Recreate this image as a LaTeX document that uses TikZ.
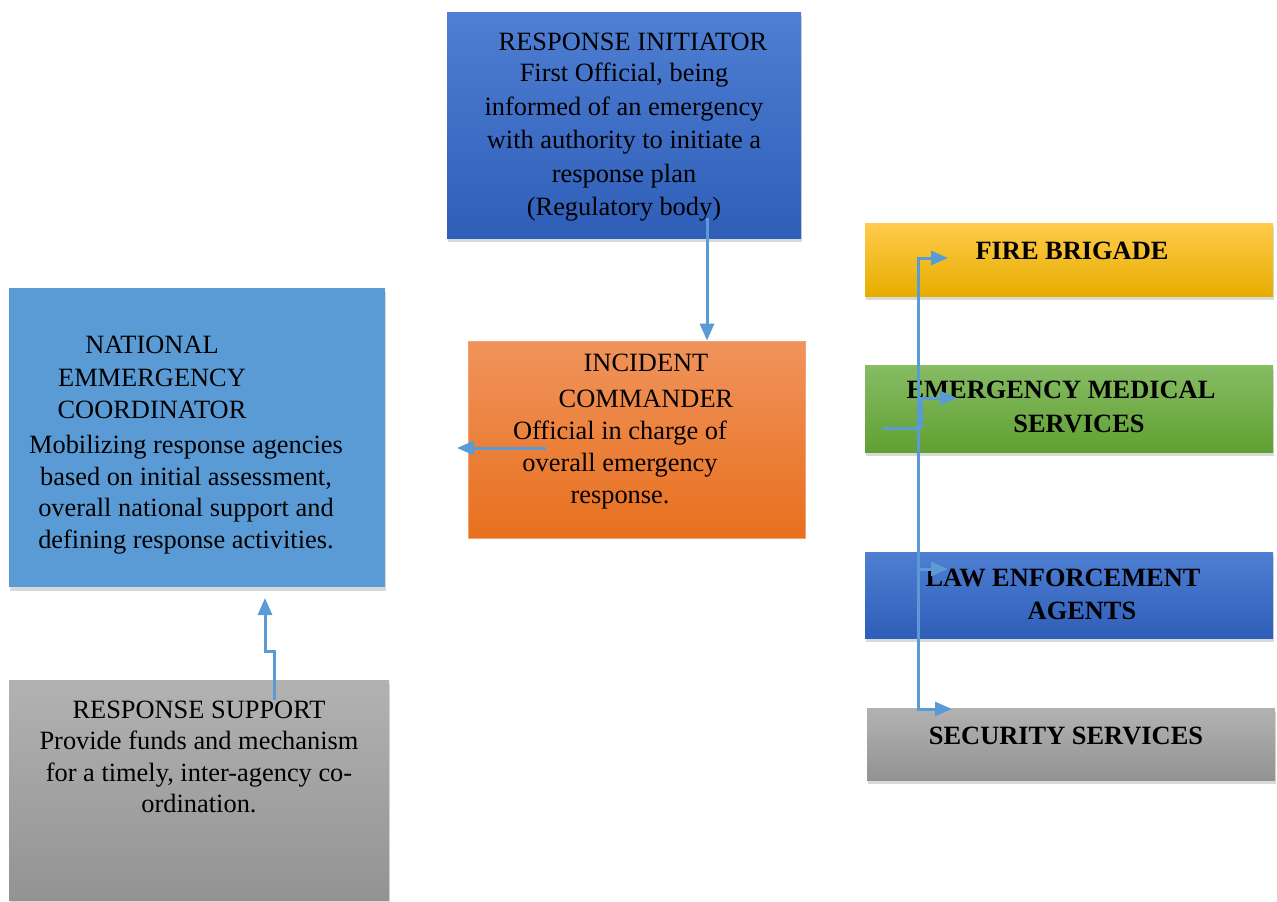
\documentclass[tikz,border=0pt]{standalone}
\usepackage{fontspec}
\setmainfont{Liberation Serif}
\usetikzlibrary{arrows.meta,shadows,calc}
\definecolor{conn}{HTML}{5B9BD5}
\definecolor{necblue}{HTML}{5B9BD5}
\definecolor{bluetop}{HTML}{4F7FD2}
\definecolor{bluebot}{HTML}{2E5EB8}
\definecolor{orgtop}{HTML}{F0935C}
\definecolor{orgbot}{HTML}{E8701E}
\definecolor{orgline}{HTML}{F4A274}
\definecolor{graytop}{HTML}{B2B2B2}
\definecolor{graybot}{HTML}{939393}
\definecolor{goldtop}{HTML}{FFCB4C}
\definecolor{goldmid}{HTML}{FFC000}
\definecolor{goldbot}{HTML}{E6AD00}
\definecolor{greentop}{HTML}{86BC64}
\definecolor{greenbot}{HTML}{61A032}
\begin{document}
\begin{tikzpicture}[x=1pt,y=-1pt,
  box/.style={rectangle, inner sep=0pt, draw=none},
  shad/.style={drop shadow={opacity=0.3, shadow xshift=1pt, shadow yshift=-4pt}},
  txt/.style={inner sep=0pt, align=center, anchor=north, text=black,
    font=\fontsize{26.4}{33}\selectfont},
  btxt/.style={txt, font=\fontsize{26.4}{33}\selectfont\bfseries},
  conline/.style={draw=conn, line width=3pt},
  arr/.style={conline, -{Triangle[length=17pt,width=14pt]}}]
\useasboundingbox (0,0) rectangle (1277,902);

% boxes
\node[box, shad, minimum width=354pt, minimum height=226pt, top color=bluetop, bottom color=bluebot] (init) at (624,125) {};
\node[box, shad, minimum width=376pt, minimum height=299pt, fill=necblue] (nec) at (197,437.5) {};
\node[box, draw=orgline, line width=0.8pt, minimum width=337pt, minimum height=197pt, top color=orgtop, bottom color=orgbot] (ic) at (636.5,439.5) {};
\node[box, shad, minimum width=380pt, minimum height=220pt, top color=graytop, bottom color=graybot] (rs) at (199,790) {};
\node[box, shad, minimum width=408pt, minimum height=73pt, top color=goldtop, middle color=goldmid, bottom color=goldbot] (fire) at (1069,259.5) {};
\node[box, shad, minimum width=408pt, minimum height=87pt, top color=greentop, bottom color=greenbot] (ems) at (1069,408.5) {};
\node[box, shad, minimum width=408pt, minimum height=86pt, top color=bluetop, bottom color=bluebot] (law) at (1069,595) {};
\node[box, shad, minimum width=408pt, minimum height=72pt, top color=graytop, bottom color=graybot] (sec) at (1071,744) {};

% texts
\node[txt] (initT) at (633,33) {RESPONSE INITIATOR};
\node[txt, font=\fontsize{26.4}{33.5}\selectfont] (initB) at (624,63) {First Official, being\\informed of an emergency\\with authority to initiate a\\response plan\\(Regulatory body)};
\node[txt, font=\fontsize{26.4}{32.5}\selectfont] (necT) at (152,336) {NATIONAL\\EMMERGENCY\\COORDINATOR};
\node[txt, font=\fontsize{26.4}{31.7}\selectfont] (necB) at (186,435) {Mobilizing response agencies\\based on initial assessment,\\overall national support and\\defining response activities.};
\node[txt, font=\fontsize{26.4}{36}\selectfont] (icT) at (646,354) {INCIDENT\\COMMANDER};
\node[txt, font=\fontsize{26.4}{32}\selectfont] (icB) at (620,421) {Official in charge of\\overall emergency\\response.};
\node[txt, font=\fontsize{26.4}{31.3}\selectfont] (rsT) at (199,701) {RESPONSE SUPPORT\\Provide funds and mechanism\\for a timely, inter-agency co-\\ordination.};
\node[btxt] (fireT) at (1072,242) {FIRE BRIGADE};
\node[btxt] (emsT1) at (1061,381) {EMERGENCY MEDICAL};
\node[btxt] (emsT2) at (1079,415) {SERVICES};
\node[btxt] (lawT1) at (1063,569) {LAW ENFORCEMENT};
\node[btxt] (lawT2) at (1082,602) {AGENTS};
\node[btxt] (secT) at (1066,727) {SECURITY SERVICES};

% connectors
\coordinate (a1s) at (707,218);
\draw[arr] (a1s) -- (a1s |- ic.north);

\coordinate (a2s) at (546,448);
\coordinate (a2e) at (457,448);
\draw[arr] (a2s) -- (a2e);

\coordinate (a3s) at (274,700);
\coordinate (a3e) at (265,598);
\draw[arr] (a3s) -- (274,651) -- (265,651) -- (a3e);

\coordinate (h0) at (883,428);
\coordinate (h1) at (918,428);
\coordinate (hE) at (921,428);
\coordinate (fireTip) at (948,258);
\coordinate (emsTip) at (957,398);
\coordinate (lawTip) at (948,569);
\coordinate (secTip) at (952,709);
\draw[conline] (h0) -- (hE);
\draw[arr] (h1) |- (fireTip);
\draw[arr] (hE) |- (emsTip);
\draw[arr] (h1) |- (lawTip);
\draw[arr] (h1) |- (secTip);
\end{tikzpicture}
\end{document}
